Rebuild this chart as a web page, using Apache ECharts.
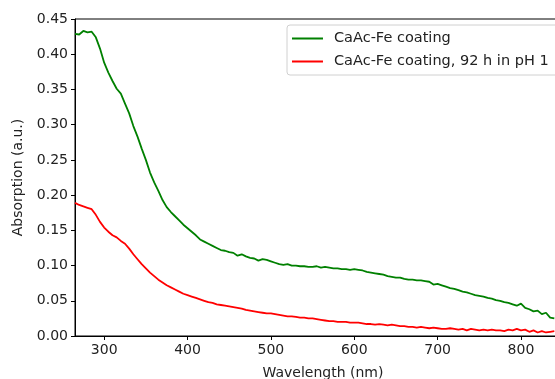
<!DOCTYPE html>
<html>
<head>
<meta charset="utf-8">
<script src="https://cdn.jsdelivr.net/npm/echarts@6/dist/echarts.min.js"></script>
<style>
html,body{margin:0;padding:0;background:#fff;}
#chart{width:555px;height:379px;}
</style>
</head>
<body>
<div id="chart"></div>
<script>
var wavelengths = [265,270,275,280,285,290,295,300,305,310,315,320,325,330,335,340,345,350,355,360,365,370,375,380,385,390,395,400,405,410,415,420,425,430,435,440,445,450,455,460,465,470,475,480,485,490,495,500,505,510,515,520,525,530,535,540,545,550,555,560,565,570,575,580,585,590,595,600,605,610,615,620,625,630,635,640,645,650,655,660,665,670,675,680,685,690,695,700,705,710,715,720,725,730,735,740,745,750,755,760,765,770,775,780,785,790,795,800,805,810,815,820,825,830,835,840];
var greenValues = [0.429,0.428,0.433,0.431,0.432,0.424,0.408,0.388,0.374,0.362,0.351,0.344,0.330,0.316,0.298,0.283,0.266,0.250,0.232,0.218,0.206,0.193,0.183,0.176,0.170,0.164,0.158,0.153,0.148,0.143,0.137,0.134,0.131,0.128,0.125,0.122,0.121,0.119,0.118,0.114,0.116,0.113,0.111,0.110,0.107,0.109,0.108,0.106,0.104,0.102,0.101,0.102,0.100,0.100,0.099,0.099,0.098,0.098,0.099,0.097,0.098,0.097,0.096,0.096,0.095,0.095,0.094,0.095,0.094,0.093,0.091,0.090,0.089,0.088,0.087,0.085,0.084,0.083,0.083,0.081,0.080,0.080,0.079,0.079,0.078,0.077,0.073,0.074,0.072,0.070,0.068,0.067,0.065,0.063,0.062,0.060,0.058,0.057,0.056,0.054,0.053,0.051,0.050,0.048,0.047,0.045,0.043,0.046,0.040,0.038,0.035,0.036,0.031,0.033,0.026,0.025];
var redValues = [0.189,0.186,0.184,0.182,0.180,0.172,0.162,0.154,0.148,0.143,0.140,0.135,0.131,0.124,0.116,0.109,0.102,0.096,0.090,0.085,0.080,0.076,0.072,0.069,0.066,0.063,0.060,0.058,0.056,0.054,0.052,0.050,0.048,0.047,0.045,0.044,0.043,0.042,0.041,0.040,0.039,0.037,0.036,0.035,0.034,0.033,0.032,0.032,0.031,0.030,0.029,0.028,0.028,0.027,0.026,0.026,0.025,0.025,0.024,0.023,0.022,0.021,0.021,0.020,0.020,0.020,0.019,0.019,0.019,0.018,0.017,0.017,0.016,0.017,0.016,0.015,0.016,0.015,0.014,0.014,0.013,0.013,0.012,0.013,0.012,0.011,0.012,0.011,0.010,0.010,0.011,0.010,0.009,0.010,0.008,0.010,0.009,0.008,0.009,0.008,0.009,0.008,0.008,0.007,0.009,0.008,0.010,0.008,0.009,0.006,0.008,0.005,0.007,0.005,0.006,0.007];
var xTicks = [300,400,500,600,700,800];
var seriesNames = ['CaAc-Fe coating','CaAc-Fe coating, 92 h in pH 1'];

function pairs(xs, ys){ return xs.map(function(x,i){ return [x, ys[i]]; }); }

var FONT = 'DejaVu Sans';
var LINE_ICON = 'path://M0,0h0.01v0.01h-0.01z M0,6h31v2h-31z M0,14h0.01v0.01h-0.01z';
var chart = echarts.init(document.getElementById('chart'), null, {renderer:'canvas'});
chart.setOption({
  animation:false,
  backgroundColor:'#fff',
  grid:{left:75, top:19, bottom:43, right:-16, outerBoundsMode:'none', containLabel:false,
        show:true, borderColor:'#000', borderWidth:1, backgroundColor:'transparent'},
  legend:{
    left:287, top:25, orient:'vertical',
    data:seriesNames.map(function(n){ return {name:n, icon:LINE_ICON}; }),
    itemWidth:31, itemHeight:14, itemGap:8,
    padding:[6,24,6,5],
    backgroundColor:'#fff', borderColor:'#d0d0d0', borderWidth:1, borderRadius:3,
    textStyle:{fontFamily:FONT, fontSize:14.5, color:'#222', padding:[0,0,0,6]}
  },
  xAxis:{
    type:'value', min:265, max:860,
    name:'Wavelength (nm)', nameLocation:'middle', nameGap:30,
    nameTextStyle:{fontFamily:FONT, fontSize:14, color:'#222'},
    axisLine:{show:true, onZero:false, lineStyle:{color:'#000', width:1}},
    axisTick:{show:true, inside:false, length:4, customValues:xTicks, lineStyle:{color:'#000'}},
    axisLabel:{customValues:xTicks, fontFamily:FONT, fontSize:14, color:'#222', margin:7},
    splitLine:{show:false}
  },
  yAxis:{
    type:'value', min:0, max:0.45, interval:0.05,
    name:'Absorption (a.u.)', nameLocation:'middle', nameGap:50,
    nameTextStyle:{fontFamily:FONT, fontSize:14, color:'#222'},
    axisLine:{show:true, lineStyle:{color:'#000', width:1}},
    axisTick:{show:true, inside:false, length:4, lineStyle:{color:'#000'}},
    axisLabel:{fontFamily:FONT, fontSize:14, color:'#222', margin:7, formatter:function(v){return v.toFixed(2);}},
    splitLine:{show:false}
  },
  series:[
    {name:seriesNames[0], type:'line', data:pairs(wavelengths, greenValues), symbol:'none', color:'#008000', lineStyle:{color:'#008000', width:1.8}},
    {name:seriesNames[1], type:'line', data:pairs(wavelengths, redValues), symbol:'none', color:'#ff0000', lineStyle:{color:'#ff0000', width:1.8}}
  ]
});
</script>
</body>
</html>
